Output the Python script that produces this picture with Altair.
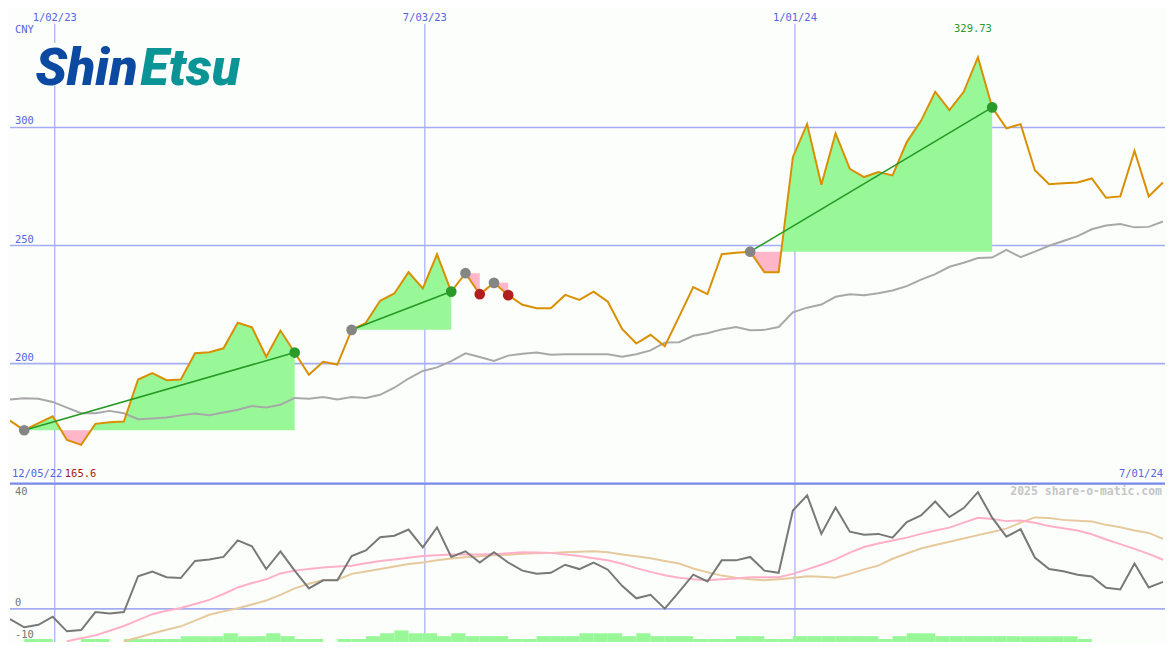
import altair as alt
import pandas as pd

# ---------------- data ----------------
START = "2022-12-11"          # first weekly point (left edge)
END = "2024-07-01"            # right edge of the time axis

price = [175.9, 171.8, 174.8, 177.7, 167.7, 165.6, 174.5, 175.2, 175.5, 193.3,
         196.0, 193.0, 193.3, 204.4, 204.8, 206.5, 217.3, 215.4, 202.9, 214.0,
         204.7, 195.3, 200.8, 199.6, 214.3, 217.3, 226.6, 229.7, 238.7, 231.9,
         246.3, 230.5, 238.3, 229.4, 234.2, 229.0, 224.9, 223.5, 223.5, 229.1,
         227.0, 230.5, 226.2, 214.7, 208.5, 212.2, 207.4, 219.8, 232.4, 229.4,
         246.3, 246.9, 247.4, 238.7, 238.7, 287.4, 301.4, 275.7, 297.5, 282.5,
         279.0, 281.1, 279.7, 293.8, 302.8, 315.1, 307.3, 315.1, 329.73, 308.5,
         299.6, 301.4, 281.9, 276.0, 276.4, 276.7, 278.4, 270.2, 270.8, 290.1,
         270.8, 276.7]

ma_long = [184.8, 185.3, 185.1, 183.8, 181.4, 179.0, 179.0, 180.0, 179.0, 176.5,
           176.8, 177.2, 178.1, 178.9, 178.2, 179.3, 180.5, 182.1, 181.4, 182.6,
           185.5, 185.1, 185.9, 184.8, 185.9, 185.5, 186.8, 189.8, 193.7, 196.9,
           198.4, 201.1, 204.4, 202.8, 201.1, 203.4, 204.2, 204.7, 203.8, 204.0,
           204.0, 204.0, 204.0, 202.9, 204.0, 205.6, 208.9, 209.1, 211.8, 212.9,
           214.5, 215.5, 214.1, 214.3, 215.5, 221.7, 223.7, 225.0, 228.3, 229.4,
           229.0, 229.8, 231.0, 232.8, 235.6, 237.9, 241.0, 242.7, 244.7, 244.9,
           248.2, 245.1, 247.4, 249.9, 251.9, 254.0, 256.9, 258.5, 259.1, 257.7,
           257.9, 260.2]

momentum = [-3.3, -5.9, -5.1, -2.5, -7.2, -6.8, -1.0, -1.5, -1.0, 10.5,
            12.0, 10.2, 9.9, 15.4, 15.9, 16.7, 22.0, 20.1, 12.8, 18.5,
            12.3, 6.6, 9.2, 9.2, 17.0, 18.8, 23.0, 23.5, 25.5, 19.8,
            26.2, 16.7, 18.5, 14.9, 18.2, 14.9, 12.3, 11.3, 11.6, 14.2,
            12.8, 14.9, 12.6, 7.4, 3.4, 4.5, 0.1, 5.5, 11.0, 8.8,
            15.6, 15.6, 16.7, 12.3, 11.6, 31.6, 36.5, 24.1, 32.6, 24.8,
            23.8, 24.1, 22.9, 27.9, 30.0, 34.5, 29.5, 32.4, 37.5, 29.3,
            23.2, 25.6, 16.5, 12.8, 12.1, 11.0, 10.4, 6.8, 6.25, 14.6,
            6.9, 8.7]

FAST_START = 4
mom_fast = [-10.4, -9.4, -8.5, -7.0, -5.5, -3.6, -1.7, -0.6, 0.3, 1.6,
            2.9, 4.8, 6.9, 8.3, 9.5, 11.4, 12.3, 12.8, 13.3, 13.6,
            13.9, 14.7, 15.4, 15.9, 16.4, 17.0, 17.25, 17.5, 17.5, 17.5,
            17.6, 17.9, 18.2, 18.1, 18.0, 17.5, 17.0, 16.3, 15.6, 14.5,
            13.1, 11.9, 10.8, 10.0, 9.5, 9.2, 9.5, 9.8, 10.2, 10.2,
            10.2, 11.25, 12.7, 14.2, 15.9, 18.1, 19.9, 21.0, 22.0, 22.9,
            24.1, 25.2, 26.1, 27.7, 29.3, 28.9, 28.2, 28.4, 27.7, 26.6,
            25.9, 25.2, 24.0, 22.3, 20.8, 19.3, 17.7, 15.8]

SLOW_START = 8
mom_slow = [-10.4, -9.2, -7.9, -6.7, -5.6, -3.75, -1.9, -0.8, 0.2, 1.4,
            2.7, 4.5, 6.6, 8.1, 9.3, 9.4, 11.25, 12.0, 12.8, 13.6,
            14.4, 14.9, 15.6, 16.2, 16.6, 16.9, 17.2, 17.4, 17.7, 17.9,
            18.0, 18.2, 18.4, 18.5, 18.2, 17.5, 16.9, 16.25, 15.4, 14.6,
            12.97, 11.8, 10.7, 10.0, 9.5, 9.2, 9.5, 9.9, 10.5, 10.3,
            10.0, 11.25, 12.7, 13.9, 16.1, 17.8, 19.4, 20.5, 21.6, 22.6,
            23.7, 24.7, 25.8, 27.7, 29.4, 29.2, 28.6, 28.3, 28.1, 27.0,
            26.25, 25.2, 24.4, 22.5]

signal_bars = [0, 1, 1, 0, 0, 1, 1, 0, 1, 1,
               1, 1, 2, 2, 2, 3, 2, 2, 3, 2,
               1, 1, 0, 1, 1, 2, 3, 4, 3, 3,
               2, 3, 2, 2, 2, 1, 1, 2, 2, 2,
               3, 3, 3, 2, 3, 2, 2, 2, 1, 1,
               1, 2, 2, 1, 1, 2, 2, 2, 2, 2,
               2, 1, 2, 3, 3, 2, 2, 2, 2, 2,
               2, 2, 2, 2, 2, 1, 0, 0, 0, 0,
               0, 0]

entry_idx = [1, 24, 32, 34, 52]
exit_idx = [20, 31, 33, 35, 69]

date_ticks = ["2023-01-02T00:00:00", "2023-07-03T00:00:00", "2024-01-01T00:00:00"]
date_tick_labels = ["1/02/23", "7/03/23", "1/01/24"]
price_ticks = [300, 250, 200]
mom_grid = [0]
mom_label_top = [40]
mom_labels = [0, -10]
first_label = "12/05/22"
last_label = "7/01/24"
currency = "CNY"
watermark = "2025 share-o-matic.com"
logo_left = "Shin"
logo_right = "Etsu"

# ---------------- styling ----------------
W = 1159
H_TOP = 475
H_BOT = 159
BG = "#fcfefc"
GRID = "#a4adf2"
SEP = "#7888ea"
LABEL_BLUE = "#5565e0"
ORANGE = "#d98f00"
MA_GRAY = "#a8a8a8"
DARK = "#787878"
PINK_LINE = "#ffb0c8"
TAN_LINE = "#e6c99c"
FILL_G = "#98f898"
FILL_R = "#ffb6c8"
TREND = "#249a24"
MONO = "DejaVu Sans Mono"

# ---------------- tables ----------------
dates = list(pd.date_range(START, periods=len(price), freq="7D"))
week = pd.Timedelta(days=7)


def iso(ts):
    return ts.strftime("%Y-%m-%dT%H:%M:%S")


main = pd.DataFrame({"d": [iso(t) for t in dates], "price": price, "ma": ma_long})
mom = pd.DataFrame({"d": [iso(t) for t in dates], "m": momentum})
fast = pd.DataFrame({"d": [iso(t) for t in dates[FAST_START:FAST_START + len(mom_fast)]], "m": mom_fast})
slow = pd.DataFrame({"d": [iso(t) for t in dates[SLOW_START:SLOW_START + len(mom_slow)]], "m": mom_slow})
bars = pd.DataFrame({"d": [iso(t) for t in dates], "d2": [iso(t + week) for t in dates], "v": signal_bars})
bars = bars[bars["v"] > 0]

fill_rows = []
trend_rows = []
marker_rows = []
for k, (a, b) in enumerate(zip(entry_idx, exit_idx)):
    base = price[a]
    for i in range(a, b + 1):
        p = price[i]
        fill_rows.append({"trade": k, "d": iso(dates[i]), "hi": max(p, base), "lo": min(p, base), "base": base})
        if i < b:
            p0, p1 = price[i] - base, price[i + 1] - base
            if p0 * p1 < 0:
                f = p0 / (p0 - p1)
                t = dates[i] + (dates[i + 1] - dates[i]) * f
                fill_rows.append({"trade": k, "d": iso(t), "hi": base, "lo": base, "base": base})
    win = price[b] > base
    if win:
        trend_rows.append({"trade": k, "d": iso(dates[a]), "p": base})
        trend_rows.append({"trade": k, "d": iso(dates[b]), "p": price[b]})
    marker_rows.append({"d": iso(dates[a]), "p": base, "kind": "entry", "o": 0})
    marker_rows.append({"d": iso(dates[b]), "p": price[b], "kind": "win" if win else "loss", "o": 1})
fills = pd.DataFrame(fill_rows)
trends = pd.DataFrame(trend_rows)
markers = pd.DataFrame(marker_rows)

imax = price.index(max(price))
imin = price.index(min(price))
max_df = pd.DataFrame({"d": [iso(dates[imax])], "t": [f"{price[imax]:.2f}"]})
min_df = pd.DataFrame({"t": [f"{price[imin]:.1f}"]})

# ---------------- scales ----------------
xs = alt.Scale(domain=[alt.DateTime(year=2022, month=12, date=11),
                       alt.DateTime(year=2024, month=7, date=1)])
ys_top = alt.Scale(domain=[149.7, 350.1], nice=False, zero=False)
ys_bot = alt.Scale(domain=[-10.6, 40.3], nice=False, zero=False)
ys_bar = alt.Scale(domain=[0, 55], nice=False, zero=True)


def X(field="d"):
    return alt.X(f"{field}:T", scale=xs, axis=None)


def YT(field):
    return alt.Y(f"{field}:Q", scale=ys_top, axis=None)


def YB(field):
    return alt.Y(f"{field}:Q", scale=ys_bot, axis=None)


# ---------------- top panel ----------------
hgrid = alt.Chart(pd.DataFrame({"v": price_ticks})).mark_rule(color=GRID, strokeWidth=1.6, clip=True).encode(
    y=YT("v"), x=alt.value(0), x2=alt.value(W))
vgrid_top = alt.Chart(pd.DataFrame({"d": date_ticks})).mark_rule(color=GRID, strokeWidth=1.2, clip=True).encode(
    x=X(), y=alt.value(14.6), y2=alt.value(H_TOP))
logo_bg = alt.Chart(pd.DataFrame({"k": [0]})).mark_rect(color=BG).encode(
    x=alt.value(37), x2=alt.value(229), y=alt.value(34), y2=alt.value(77))

green_fill = alt.Chart(fills).mark_area(color=FILL_G, opacity=1, clip=True).encode(
    x=X(), y=YT("hi"), y2="base:Q", detail="trade:N")
pink_fill = alt.Chart(fills).mark_area(color=FILL_R, opacity=1, clip=True).encode(
    x=X(), y=YT("lo"), y2="base:Q", detail="trade:N")

ma_line = alt.Chart(main).mark_line(color=MA_GRAY, strokeWidth=2, clip=True).encode(x=X(), y=YT("ma"))
price_line = alt.Chart(main).mark_line(color=ORANGE, strokeWidth=2, clip=True).encode(x=X(), y=YT("price"))
trend_line = alt.Chart(trends).mark_line(color=TREND, strokeWidth=1.6, clip=True).encode(
    x=X(), y=YT("p"), detail="trade:N")
marker_pts = alt.Chart(markers).mark_circle(size=115, opacity=1).encode(
    x=X(), y=YT("p"),
    color=alt.Color("kind:N", scale=alt.Scale(domain=["entry", "win", "loss"],
                                              range=["#858585", "#2a9a2a", "#b01e1e"]), legend=None),
    order="o:Q")

date_text = alt.Chart(pd.DataFrame({"d": date_ticks, "t": date_tick_labels})).mark_text(
    font=MONO, fontSize=10.5, color=LABEL_BLUE, align="center", baseline="middle").encode(
    x=X(), y=alt.value(8.8), text="t:N")
price_text = alt.Chart(pd.DataFrame({"v": price_ticks, "t": [str(v) for v in price_ticks]})).mark_text(
    font=MONO, fontSize=10.5, color=LABEL_BLUE, align="left", baseline="middle", dy=-6).encode(
    x=alt.value(5), y=YT("v"), text="t:N")
cny_text = alt.Chart(pd.DataFrame({"t": [currency]})).mark_text(
    font=MONO, fontSize=10.5, color=LABEL_BLUE, align="left", baseline="middle").encode(
    x=alt.value(5), y=alt.value(20.5), text="t:N")
max_text = alt.Chart(max_df).mark_text(
    font=MONO, fontSize=10.5, color="#2a9a2a", align="center", baseline="middle", dx=-5).encode(
    x=X(), y=alt.value(20.2), text="t:N")
first_text = alt.Chart(pd.DataFrame({"t": [first_label]})).mark_text(
    font=MONO, fontSize=10.5, color=LABEL_BLUE, align="left", baseline="middle").encode(
    x=alt.value(2), y=alt.value(467), text="t:N")
min_text = alt.Chart(min_df).mark_text(
    font=MONO, fontSize=10.5, color="#a01818", align="left", baseline="middle").encode(
    x=alt.value(55), y=alt.value(467), text="t:N")
last_text = alt.Chart(pd.DataFrame({"t": [last_label]})).mark_text(
    font=MONO, fontSize=10.5, color=LABEL_BLUE, align="right", baseline="middle").encode(
    x=alt.value(1157), y=alt.value(467), text="t:N")
logo_l = alt.Chart(pd.DataFrame({"t": [logo_left]})).mark_text(
    font="Roboto", fontSize=52, fontWeight=900, fontStyle="italic", color="#0c4aa2",
    align="right", baseline="alphabetic").encode(x=alt.value(128), y=alt.value(76), text="t:N")
logo_r = alt.Chart(pd.DataFrame({"t": [logo_right]})).mark_text(
    font="Roboto", fontSize=52, fontWeight=900, fontStyle="italic", color="#0a9496",
    align="left", baseline="alphabetic").encode(x=alt.value(131), y=alt.value(76), text="t:N")

top = alt.layer(
    hgrid, vgrid_top, logo_bg, green_fill, pink_fill, ma_line, price_line, trend_line, marker_pts,
    date_text, price_text, cny_text, max_text, first_text, min_text, last_text, logo_l, logo_r,
).properties(width=W, height=H_TOP)

# ---------------- bottom panel ----------------
hgrid_b = alt.Chart(pd.DataFrame({"v": mom_grid})).mark_rule(color=GRID, strokeWidth=1.6, clip=True).encode(
    y=YB("v"), x=alt.value(0), x2=alt.value(W))
vgrid_b = alt.Chart(pd.DataFrame({"d": date_ticks})).mark_rule(color=GRID, strokeWidth=1.2, clip=True).encode(
    x=X(), y=alt.value(0), y2=alt.value(H_BOT))
bar_rects = alt.Chart(bars).mark_rect(color=FILL_G, clip=True).encode(
    x=X(), x2="d2:T", y=alt.Y("v:Q", scale=ys_bar, axis=None), y2=alt.datum(0))
slow_line = alt.Chart(slow).mark_line(color=TAN_LINE, strokeWidth=2, clip=True).encode(x=X(), y=YB("m"))
fast_line = alt.Chart(fast).mark_line(color=PINK_LINE, strokeWidth=2, clip=True).encode(x=X(), y=YB("m"))
mom_line = alt.Chart(mom).mark_line(color=DARK, strokeWidth=2, clip=True).encode(x=X(), y=YB("m"))
sep = alt.Chart(pd.DataFrame({"k": [0]})).mark_rule(color=SEP, strokeWidth=2.2).encode(
    x=alt.value(0), x2=alt.value(W), y=alt.value(0.2))
top_lab = alt.Chart(pd.DataFrame({"v": mom_label_top, "t": [str(v) for v in mom_label_top]})).mark_text(
    font=MONO, fontSize=10.5, color="#777777", align="left", baseline="middle", dy=8).encode(
    x=alt.value(5), y=YB("v"), text="t:N")
mom_lab = alt.Chart(pd.DataFrame({"v": mom_labels, "t": [str(v) for v in mom_labels]})).mark_text(
    font=MONO, fontSize=10.5, color="#777777", align="left", baseline="middle", dy=-5.5).encode(
    x=alt.value(5), y=YB("v"), text="t:N")
wm = alt.Chart(pd.DataFrame({"t": [watermark]})).mark_text(
    font="DejaVu Sans Mono", fontSize=11.5, fontWeight="bold", color="#c6c6c6",
    align="right", baseline="middle").encode(x=alt.value(1156), y=alt.value(8.8), text="t:N")

bottom = alt.layer(
    hgrid_b, vgrid_b, bar_rects, slow_line, fast_line, mom_line, sep, top_lab, mom_lab, wm,
).resolve_scale(y="independent").properties(width=W, height=H_BOT)

chart = (
    alt.vconcat(top, bottom, spacing=0)
    .properties(padding=0, background=BG)
    .configure_view(stroke=None)
    .configure_concat(spacing=0)
)

chart.save("out.html", embed_options={"renderer": "svg", "actions": False})
